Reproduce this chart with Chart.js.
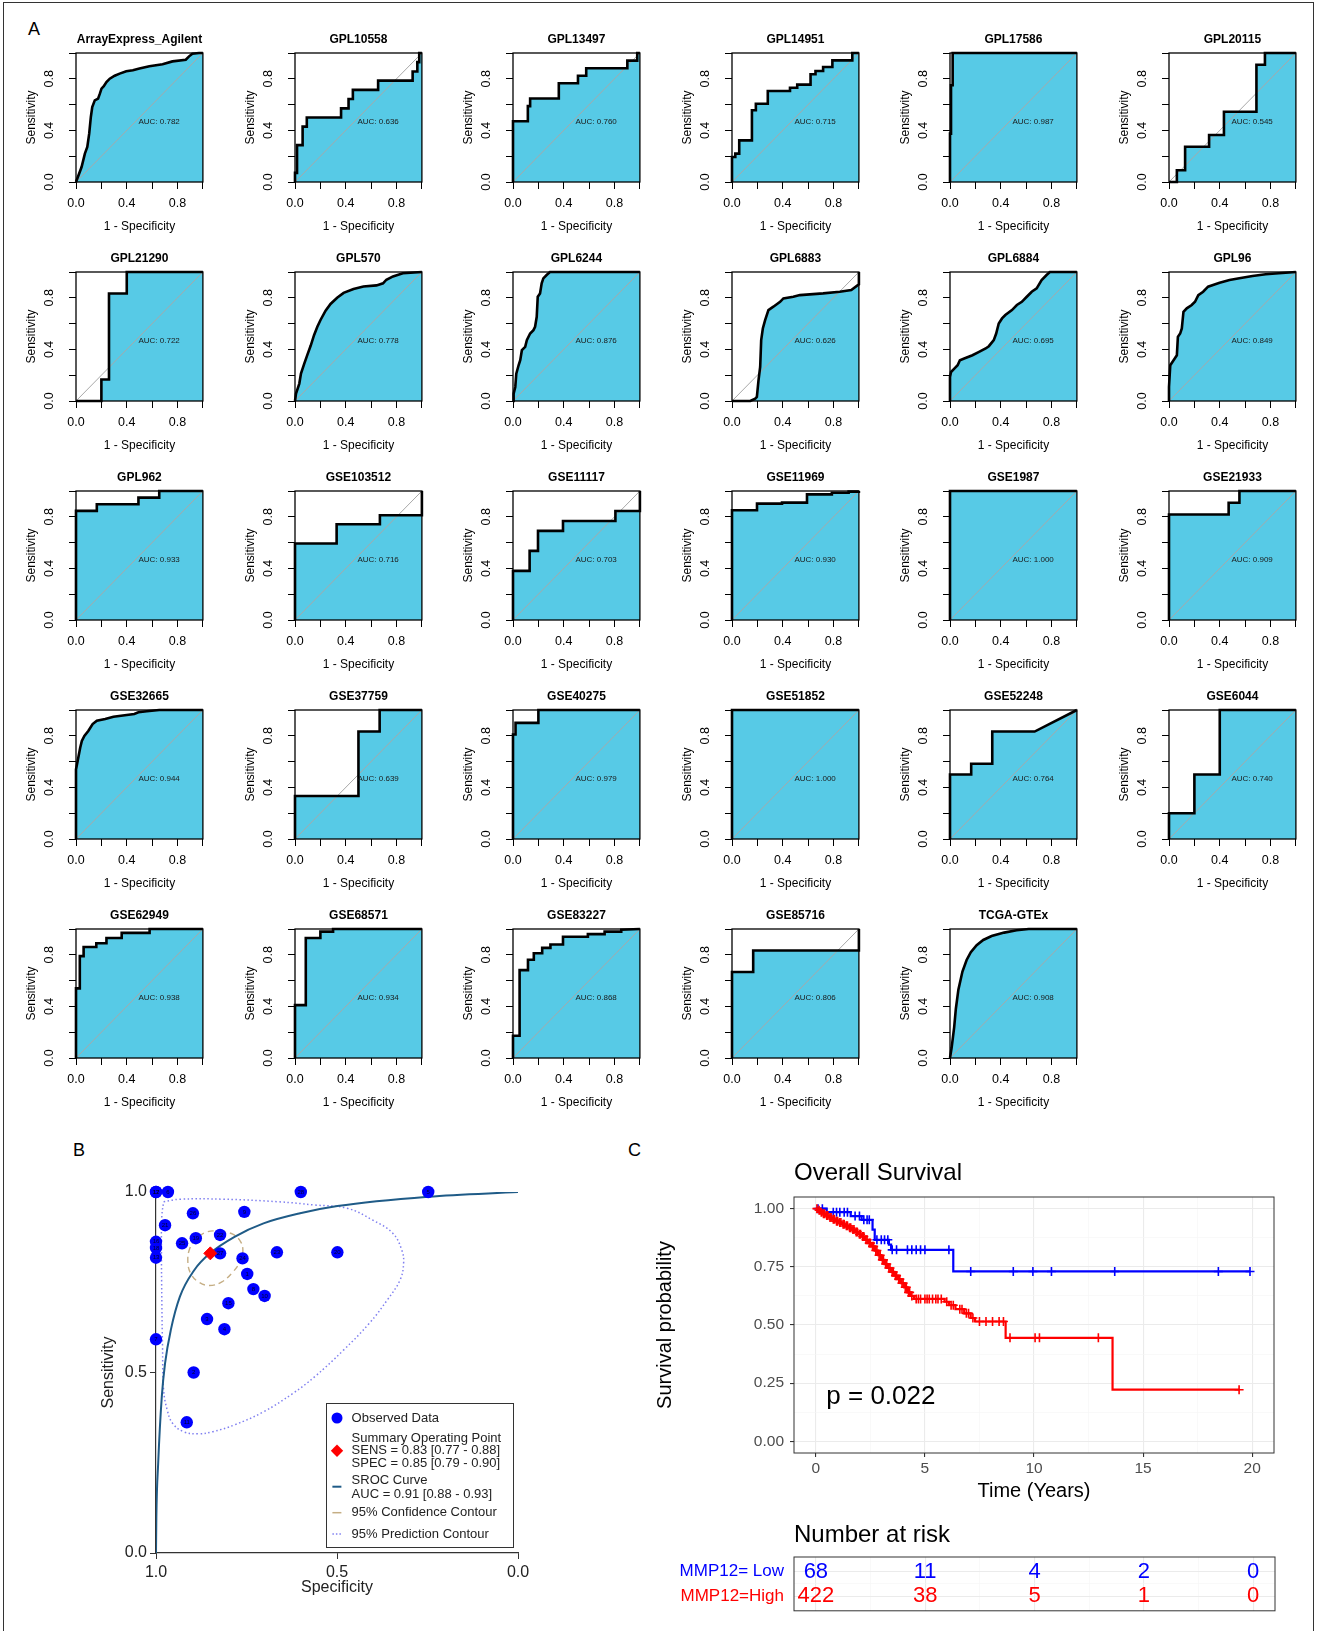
<!DOCTYPE html>
<html lang="en">
<head>
<meta charset="utf-8">
<title>MMP12 diagnostic and prognostic performance</title>
<script src="https://cdn.jsdelivr.net/npm/chart.js@4.4.1/dist/chart.umd.min.js"></script>
<style>
  html, body { margin: 0; padding: 0; background: #fff; }
  #fig { position: relative; width: 1317px; height: 1631px; overflow: hidden; background: #fff;
         font-family: 'Liberation Sans', Arial, sans-serif; }
  #fig canvas { position: absolute; }
  .frame { position: absolute; left: 3px; top: 2px; width: 1311px; height: 1700px;
           border: 1.5px solid #333; box-sizing: border-box; }
  .letter { position: absolute; font-size: 18px; line-height: 18px; color: #000; }
</style>
</head>
<body>
<div id="fig">
  <div class="frame"></div>
  <div class="letter" style="left:28px;top:20px">A</div>
  <div class="letter" style="left:73px;top:1141px">B</div>
  <div class="letter" style="left:628px;top:1141px">C</div>
</div>
<script>
const FONT = "'Liberation Sans', Arial, sans-serif";
Chart.defaults.font.family = FONT;
Chart.defaults.color = '#000';

// ---------- Panel A: ROC curves per dataset, points are [1 - specificity, sensitivity] ----------
const rocTitles = ['ArrayExpress_Agilent', 'GPL10558', 'GPL13497', 'GPL14951', 'GPL17586', 'GPL20115',
  'GPL21290', 'GPL570', 'GPL6244', 'GPL6883', 'GPL6884', 'GPL96',
  'GPL962', 'GSE103512', 'GSE11117', 'GSE11969', 'GSE1987', 'GSE21933',
  'GSE32665', 'GSE37759', 'GSE40275', 'GSE51852', 'GSE52248', 'GSE6044',
  'GSE62949', 'GSE68571', 'GSE83227', 'GSE85716', 'TCGA-GTEx'];
const rocAuc = [0.782, 0.636, 0.760, 0.715, 0.987, 0.545,
  0.722, 0.778, 0.876, 0.626, 0.695, 0.849,
  0.933, 0.716, 0.703, 0.930, 1.000, 0.909,
  0.944, 0.639, 0.979, 1.000, 0.764, 0.740,
  0.938, 0.934, 0.868, 0.806, 0.908];

const rocArrayExpressAgilent = [[0,0],[0.044,0.116],[0.070,0.220],[0.089,0.271],[0.104,0.375],[0.117,0.504],[0.128,0.581],[0.148,0.633],[0.174,0.646],[0.188,0.685],[0.201,0.724],[0.219,0.742],[0.240,0.775],[0.266,0.801],[0.305,0.824],[0.344,0.840],[0.396,0.858],[0.448,0.866],[0.500,0.879],[0.578,0.897],[0.682,0.912],[0.760,0.935],[0.865,0.948],[0.891,0.974],[0.917,0.995],[0.969,1],[1,1]];
const rocGPL10558 = [[0,0],[0,0.071],[0.016,0.071],[0.016,0.286],[0.060,0.286],[0.060,0.429],[0.093,0.429],[0.093,0.5],[0.363,0.5],[0.363,0.571],[0.422,0.571],[0.422,0.643],[0.456,0.643],[0.456,0.714],[0.655,0.714],[0.655,0.786],[0.927,0.786],[0.927,0.857],[0.964,0.857],[0.964,0.929],[0.979,0.929],[0.979,1],[1,1]];
const rocGPL13497 = [[0,0],[0,0.471],[0.117,0.471],[0.117,0.588],[0.135,0.588],[0.135,0.647],[0.361,0.647],[0.361,0.765],[0.512,0.765],[0.512,0.824],[0.577,0.824],[0.577,0.882],[0.901,0.882],[0.901,0.941],[0.979,0.941],[0.979,1],[1,1]];
const rocGPL14951 = [[0,0],[0,0.194],[0.026,0.194],[0.026,0.22],[0.057,0.22],[0.057,0.323],[0.157,0.323],[0.157,0.556],[0.188,0.556],[0.188,0.607],[0.282,0.607],[0.282,0.705],[0.457,0.705],[0.457,0.731],[0.514,0.731],[0.514,0.755],[0.619,0.755],[0.619,0.835],[0.658,0.835],[0.658,0.86],[0.718,0.86],[0.718,0.891],[0.791,0.891],[0.791,0.943],[0.948,0.943],[0.948,1],[1,1]];
const rocGPL17586 = [[0,0],[0,0.375],[0.008,0.375],[0.008,0.75],[0.021,0.75],[0.021,1],[1,1]];
const rocGPL20115 = [[0,0],[0.062,0],[0.062,0.091],[0.127,0.091],[0.127,0.273],[0.316,0.273],[0.316,0.364],[0.433,0.364],[0.433,0.545],[0.689,0.545],[0.689,0.909],[0.756,0.909],[0.756,1],[1,1]];
const rocGPL21290 = [[0,0],[0.2,0],[0.2,0.167],[0.26,0.167],[0.26,0.833],[0.4,0.833],[0.4,1],[1,1]];
const rocGPL570 = [[0,0],[0.008,0.057],[0.034,0.135],[0.047,0.212],[0.073,0.29],[0.098,0.36],[0.124,0.43],[0.150,0.51],[0.176,0.575],[0.202,0.63],[0.241,0.70],[0.280,0.752],[0.332,0.80],[0.383,0.838],[0.461,0.868],[0.539,0.888],[0.642,0.896],[0.694,0.912],[0.72,0.94],[0.772,0.966],[0.850,0.99],[1,1]];
const rocGPL6244 = [[0,0],[0.005,0.057],[0.018,0.109],[0.026,0.212],[0.044,0.277],[0.057,0.316],[0.070,0.394],[0.096,0.420],[0.109,0.472],[0.135,0.523],[0.161,0.549],[0.174,0.575],[0.187,0.653],[0.195,0.808],[0.213,0.834],[0.226,0.912],[0.239,0.951],[0.265,0.977],[0.291,1],[1,1]];
const rocGPL6883 = [[0,0],[0.144,0],[0.183,0.018],[0.196,0.031],[0.209,0.161],[0.222,0.264],[0.23,0.472],[0.243,0.562],[0.261,0.627],[0.287,0.705],[0.326,0.731],[0.379,0.769],[0.405,0.795],[0.483,0.808],[0.535,0.821],[0.718,0.834],[0.849,0.847],[0.940,0.860],[1,0.904],[1,1]];
const rocGPL6884 = [[0,0],[0,0.187],[0.008,0.225],[0.034,0.251],[0.060,0.277],[0.078,0.316],[0.112,0.329],[0.177,0.355],[0.229,0.381],[0.281,0.407],[0.306,0.425],[0.345,0.472],[0.364,0.523],[0.384,0.601],[0.410,0.640],[0.436,0.666],[0.488,0.705],[0.527,0.744],[0.566,0.769],[0.605,0.808],[0.644,0.847],[0.683,0.873],[0.722,0.938],[0.761,0.977],[0.787,1],[1,1]];
const rocGPL96 = [[0,0],[0,0.109],[0.010,0.277],[0.036,0.316],[0.062,0.355],[0.070,0.497],[0.088,0.523],[0.101,0.562],[0.114,0.692],[0.140,0.718],[0.179,0.744],[0.205,0.769],[0.231,0.821],[0.269,0.847],[0.308,0.886],[0.347,0.899],[0.399,0.917],[0.477,0.938],[0.554,0.951],[0.658,0.969],[0.762,0.982],[0.865,0.990],[1,1]];
const rocGPL962 = [[0,0],[0,0.846],[0.164,0.846],[0.164,0.897],[0.492,0.897],[0.492,0.949],[0.656,0.949],[0.656,1],[1,1]];
const rocGSE103512 = [[0,0],[0,0.593],[0.328,0.593],[0.328,0.742],[0.669,0.742],[0.669,0.812],[1,0.812],[1,1]];
const rocGSE11117 = [[0,0],[0,0.381],[0.131,0.381],[0.131,0.536],[0.197,0.536],[0.197,0.691],[0.394,0.691],[0.394,0.768],[0.807,0.768],[0.807,0.845],[1,0.845],[1,1]];
const rocGSE11969 = [[0,0],[0,0.851],[0.197,0.851],[0.197,0.902],[0.394,0.902],[0.394,0.91],[0.591,0.91],[0.591,0.974],[0.787,0.974],[0.787,0.987],[0.919,0.987],[0.919,0.995],[1,0.995],[1,1]];
const rocGSE1987 = [[0,0],[0,1],[1,1]];
const rocGSE21933 = [[0,0],[0,0.818],[0.47,0.818],[0.47,0.909],[0.555,0.909],[0.555,1],[1,1]];
const rocGSE32665 = [[0,0],[0,0.539],[0.013,0.604],[0.033,0.708],[0.046,0.760],[0.066,0.799],[0.098,0.839],[0.131,0.891],[0.164,0.917],[0.230,0.930],[0.295,0.948],[0.459,0.969],[0.492,0.982],[0.558,0.990],[0.656,1],[1,1]];
const rocGSE37759 = [[0,0],[0,0.333],[0.5,0.333],[0.5,0.833],[0.667,0.833],[0.667,1],[1,1]];
const rocGSE40275 = [[0,0],[0,0.81],[0.02,0.81],[0.02,0.9],[0.2,0.9],[0.2,1],[1,1]];
const rocGSE51852 = [[0,0],[0,1],[1,1]];
const rocGSE52248 = [[0,0],[0,0.5],[0.167,0.5],[0.167,0.583],[0.333,0.583],[0.333,0.833],[0.667,0.833],[1,1]];
const rocGSE6044 = [[0,0],[0,0.2],[0.2,0.2],[0.2,0.5],[0.4,0.5],[0.4,1],[1,1]];
const rocGSE62949 = [[0,0],[0,0.54],[0.03,0.54],[0.03,0.79],[0.06,0.79],[0.06,0.86],[0.16,0.86],[0.16,0.89],[0.24,0.89],[0.24,0.93],[0.36,0.93],[0.36,0.97],[0.58,0.97],[0.58,1],[1,1]];
const rocGSE68571 = [[0,0],[0,0.41],[0.085,0.41],[0.085,0.93],[0.2,0.93],[0.2,0.98],[0.3,0.98],[0.3,1],[1,1]];
const rocGSE83227 = [[0,0],[0,0.172],[0.052,0.172],[0.052,0.681],[0.118,0.681],[0.118,0.762],[0.164,0.762],[0.164,0.812],[0.23,0.812],[0.23,0.854],[0.295,0.854],[0.295,0.88],[0.394,0.88],[0.394,0.94],[0.59,0.94],[0.59,0.96],[0.722,0.96],[0.722,0.98],[0.853,0.98],[0.853,0.995],[1,1]];
const rocGSE85716 = [[0,0],[0,0.667],[0.167,0.667],[0.167,0.833],[1,0.833],[1,1]];
const rocTCGAGTEx = [[0,0],[0.013,0.081],[0.033,0.24],[0.046,0.38],[0.066,0.53],[0.098,0.67],[0.131,0.76],[0.164,0.82],[0.21,0.875],[0.262,0.915],[0.328,0.945],[0.427,0.972],[0.525,0.99],[0.62,1],[1,1]];

const rocCurves = [rocArrayExpressAgilent, rocGPL10558, rocGPL13497, rocGPL14951, rocGPL17586, rocGPL20115,
  rocGPL21290, rocGPL570, rocGPL6244, rocGPL6883, rocGPL6884, rocGPL96,
  rocGPL962, rocGSE103512, rocGSE11117, rocGSE11969, rocGSE1987, rocGSE21933,
  rocGSE32665, rocGSE37759, rocGSE40275, rocGSE51852, rocGSE52248, rocGSE6044,
  rocGSE62949, rocGSE68571, rocGSE83227, rocGSE85716, rocTCGAGTEx];
const rocTickValues = [0, 0.2, 0.4, 0.6, 0.8, 1];
const rocTickLabels = ['0.0', '', '0.4', '', '0.8', ''];

// ---------- Panel B: bivariate summary ROC (specificity, sensitivity) ----------
const studyIds  = ['17', '12', '6', '28', '5', '26', '9', '21', '22', '19', '25', '16', '18', '13', '27', '24', '23', '20', '1', '8', '10', '15', '3', '4', '7', '2', '11'];
const studySpec = [1.0, 1.0, 0.967, 0.600, 0.248, 0.898, 0.756, 0.975, 0.823, 0.890, 0.928, 1.0, 1.0, 1.0, 0.823, 0.761, 0.666, 0.499, 0.748, 0.731, 0.700, 0.800, 0.859, 0.811, 1.0, 0.896, 0.915];
const studySens = [1.0, 1.0, 1.0, 1.0, 1.0, 0.941, 0.945, 0.908, 0.881, 0.872, 0.858, 0.862, 0.845, 0.818, 0.830, 0.816, 0.833, 0.833, 0.773, 0.731, 0.712, 0.692, 0.648, 0.620, 0.592, 0.500, 0.362];
const summarySpec = [0.85];
const summarySens = [0.83];
const srocSpec = [1.0, 0.999, 0.994, 0.984, 0.975, 0.959, 0.934, 0.894, 0.851, 0.783, 0.703, 0.602, 0.499, 0.248, 0.0];
const srocSens = [0.0, 0.10, 0.248, 0.433, 0.525, 0.618, 0.710, 0.784, 0.830, 0.876, 0.913, 0.941, 0.961, 0.987, 1.0];
const confSpec = [0.823, 0.788, 0.766, 0.760, 0.768, 0.788, 0.818, 0.853, 0.883, 0.904, 0.912, 0.907, 0.888, 0.858, 0.823];
const confSens = [0.892, 0.883, 0.862, 0.834, 0.806, 0.778, 0.751, 0.741, 0.751, 0.774, 0.806, 0.843, 0.871, 0.890, 0.892];
const predSpec = [0.979, 0.934, 0.813, 0.662, 0.562, 0.472, 0.401, 0.346, 0.321, 0.316, 0.326, 0.361, 0.411, 0.482, 0.562, 0.622, 0.703, 0.783, 0.843, 0.883, 0.924, 0.954, 0.969, 0.979, 0.982, 0.984, 0.985, 0.984, 0.979];
const predSens = [0.973, 0.980, 0.980, 0.973, 0.964, 0.955, 0.922, 0.886, 0.839, 0.802, 0.756, 0.701, 0.636, 0.562, 0.488, 0.442, 0.391, 0.355, 0.336, 0.330, 0.336, 0.359, 0.396, 0.452, 0.572, 0.710, 0.849, 0.932, 0.973];
const srocTickValues = [0, 0.5, 1];
const srocLegendText = ['Observed Data', 'Summary Operating Point', 'SENS = 0.83 [0.77 - 0.88]', 'SPEC = 0.85 [0.79 - 0.90]',
  'SROC Curve', 'AUC = 0.91 [0.88 - 0.93]', '95% Confidence Contour', '95% Prediction Contour'];

// ---------- Panel C: Kaplan-Meier overall survival by MMP12 expression ----------
const kmLowTime = [0, 0.5, 1.6, 2.1, 2.6, 2.7, 3.35, 3.45, 6.3, 19.9];
const kmLowSurv = [1, 0.985, 0.968, 0.952, 0.91, 0.866, 0.845, 0.823, 0.73, 0.73];
const kmLowCensor = [0.1, 0.3, 0.8, 0.95, 1.1, 1.3, 1.45, 1.8, 2.0, 2.2, 2.35, 2.45, 2.8, 3.0, 3.15, 3.3, 3.5, 3.7, 4.2, 4.4, 4.6, 4.8, 5.0, 6.1, 7.1, 9.05, 9.95, 10.8, 13.7, 18.45, 19.9];
const kmHighTime = [0, 0.10, 0.20, 0.30, 0.45, 0.60, 0.75, 0.90, 1.05, 1.20, 1.35, 1.50, 1.65, 1.80, 1.95, 2.10, 2.25, 2.40, 2.55, 2.70, 2.85, 3.00, 3.15, 3.30, 3.45, 3.60, 3.75, 3.90, 4.05, 4.20, 4.35, 4.50, 5.90, 6.10, 6.40, 6.80, 7.10, 7.30, 8.70, 13.60, 19.40];
const kmHighSurv = [1, 0.993, 0.985, 0.978, 0.970, 0.962, 0.954, 0.946, 0.940, 0.933, 0.926, 0.918, 0.910, 0.900, 0.890, 0.880, 0.866, 0.852, 0.838, 0.820, 0.800, 0.780, 0.762, 0.745, 0.728, 0.712, 0.697, 0.680, 0.662, 0.640, 0.625, 0.612, 0.600, 0.585, 0.568, 0.550, 0.530, 0.515, 0.445, 0.222, 0.222];
const kmHighCensor = [0.05, 0.15, 0.25, 0.35, 0.4, 0.5, 0.55, 0.65, 0.7, 0.8, 0.85, 0.95, 1.0, 1.1, 1.15, 1.25, 1.3, 1.4, 1.45, 1.55, 1.6, 1.7, 1.75, 1.85, 1.9, 2.0, 2.05, 2.15, 2.2, 2.3, 2.35, 2.45, 2.5, 2.6, 2.65, 2.75, 2.8, 2.9, 2.95, 3.05, 3.1, 3.2, 3.25, 3.35, 3.4, 3.5, 3.55, 3.65, 3.7, 3.8, 3.85, 3.95, 4.0, 4.1, 4.15, 4.25, 4.3, 4.4, 4.6, 4.7, 4.8, 5.0, 5.1, 5.2, 5.35, 5.5, 5.6, 5.75, 6.0, 6.2, 6.3, 6.6, 6.7, 6.9, 7.0, 7.2, 7.5, 7.8, 8.1, 8.4, 8.6, 8.9, 10.05, 10.25, 12.95, 19.4];
const kmGridX = [0, 2.5, 5, 7.5, 10, 12.5, 15, 17.5, 20];
const kmGridY = [0, 0.125, 0.25, 0.375, 0.5, 0.625, 0.75, 0.875, 1];
const pValueLabel = 'p = 0.022';
const riskTimes = [0, 5, 10, 15, 20];
const riskLow = [68, 11, 4, 2, 0];
const riskHigh = [422, 38, 5, 1, 0];
const riskLabels = ['MMP12= Low', 'MMP12=High'];

// ---------- shared helpers ----------
const ROC_FILL = '#57CAE6';
const LOW_COLOR = '#0000FF';
const HIGH_COLOR = '#FF0000';
const GRID_LEFT = [76, 295, 513, 732, 950, 1169];
const GRID_TOP = [53, 272, 491, 710, 929];
const fig = document.getElementById('fig');

function makeCanvas(left, top, w, h) {
  const c = document.createElement('canvas');
  c.width = w; c.height = h;
  c.style.left = left + 'px'; c.style.top = top + 'px';
  c.style.width = w + 'px'; c.style.height = h + 'px';
  fig.appendChild(c);
  return c;
}
const toPts = (arr) => arr.map(p => ({ x: p[0], y: p[1] }));
const zipPts = (xs, ys) => xs.map((x, i) => ({ x, y: ys[i] }));
const fixTicks = (values) => (scale) => { scale.ticks = values.map(v => ({ value: v })); };

function framePlugin(color, width) {
  return {
    id: 'frame',
    afterDatasetsDraw(chart) {
      const { ctx, chartArea: a } = chart;
      ctx.save();
      ctx.strokeStyle = color; ctx.lineWidth = width;
      ctx.strokeRect(a.left, a.top, a.right - a.left, a.bottom - a.top);
      ctx.restore();
    }
  };
}

function aucPlugin(text) {
  return {
    id: 'aucText',
    afterDatasetsDraw(chart) {
      const { ctx, scales: { x, y } } = chart;
      ctx.save();
      ctx.font = `8px ${FONT}`; ctx.fillStyle = '#1a1a1a';
      ctx.textAlign = 'left'; ctx.textBaseline = 'top';
      ctx.fillText(text, x.getPixelForValue(0.5) - 1, y.getPixelForValue(0.5) + 0.5);
      ctx.restore();
    }
  };
}

function rocScale(isX) {
  return {
    type: 'linear', position: isX ? 'bottom' : 'left', min: 0, max: 1,
    afterBuildTicks: fixTicks(rocTickValues),
    afterFit: (s) => { if (isX) s.height = 56; else s.width = 56; },
    border: { display: false },
    grid: { drawOnChartArea: false, drawTicks: true, tickLength: 7, tickColor: '#000', tickWidth: 1 },
    ticks: {
      autoSkip: false, color: '#000', font: { size: 12.5 },
      padding: isX ? 7.1 : 11,
      minRotation: isX ? 0 : 90, maxRotation: isX ? 0 : 90,
      crossAlign: isX ? 'near' : 'center',
      callback: (v, i) => rocTickLabels[i]
    },
    title: {
      display: true, text: isX ? '1 - Specificity' : 'Sensitivity', color: '#000', font: { size: 12 },
      padding: isX ? { top: 0, bottom: 3.8 } : { top: 4.5, bottom: 0 }
    }
  };
}

// ---------- Panel A: 29 ROC plots ----------
rocCurves.forEach((curve, i) => {
  const r = Math.floor(i / 6), c = i % 6;
  const canvas = makeCanvas(GRID_LEFT[c] - 56, GRID_TOP[r] - 25, 190, 210);
  new Chart(canvas, {
    type: 'scatter',
    data: {
      datasets: [
        { data: toPts(curve), showLine: true, fill: 'origin', backgroundColor: ROC_FILL,
          borderColor: 'rgba(0,0,0,0)', borderWidth: 0, pointRadius: 0, order: 3 },
        { data: [{ x: 0, y: 0 }, { x: 1, y: 1 }], showLine: true, borderColor: '#a8a8a8',
          borderWidth: 1, pointRadius: 0, order: 2 },
        { data: toPts(curve), showLine: true, borderColor: '#000', borderWidth: 2.6,
          borderJoinStyle: 'miter', borderCapStyle: 'butt', pointRadius: 0, order: 1, clip: 4 }
      ]
    },
    options: {
      responsive: false, animation: false, events: [],
      layout: { padding: { left: 0, right: 6, top: 0, bottom: 0 } },
      plugins: {
        legend: { display: false }, tooltip: { enabled: false },
        title: { display: true, text: rocTitles[i], fullSize: false, align: 'center', color: '#000',
                 font: { size: 12, weight: 'bold' }, padding: { top: 4.1, bottom: 6.5 } }
      },
      scales: { x: rocScale(true), y: rocScale(false) }
    },
    plugins: [framePlugin('#000', 1.3), aucPlugin('AUC: ' + rocAuc[i].toFixed(3))]
  });
});

// ---------- Panel B: SROC ----------
const studyLabelPlugin = {
  id: 'studyLabels',
  afterDatasetsDraw(chart) {
    const { ctx, scales: { x, y } } = chart;
    ctx.save();
    ctx.font = `6px ${FONT}`; ctx.fillStyle = '#000033';
    ctx.textAlign = 'center'; ctx.textBaseline = 'middle';
    studyIds.forEach((id, i) => ctx.fillText(id, x.getPixelForValue(studySpec[i]), y.getPixelForValue(studySens[i])));
    ctx.restore();
  }
};
const srocLegendPlugin = {
  id: 'srocLegend',
  afterDraw(chart) {
    const ctx = chart.ctx;
    ctx.save();
    ctx.fillStyle = '#fff';
    ctx.fillRect(266.5, 273.5, 187, 144);
    ctx.strokeStyle = '#333'; ctx.lineWidth = 1;
    ctx.strokeRect(266.5, 273.5, 187, 144);
    // symbols
    ctx.fillStyle = LOW_COLOR;
    ctx.beginPath(); ctx.arc(277, 288, 5.5, 0, Math.PI * 2); ctx.fill();
    ctx.fillStyle = HIGH_COLOR;
    ctx.beginPath(); ctx.moveTo(277, 314.5); ctx.lineTo(283.2, 320.7); ctx.lineTo(277, 326.9); ctx.lineTo(270.8, 320.7); ctx.closePath(); ctx.fill();
    ctx.lineWidth = 2; ctx.strokeStyle = '#1F5B87';
    ctx.beginPath(); ctx.moveTo(272.4, 356.7); ctx.lineTo(281.4, 356.7); ctx.stroke();
    ctx.lineWidth = 1.5; ctx.strokeStyle = '#C5AE84';
    ctx.beginPath(); ctx.moveTo(272.4, 382.7); ctx.lineTo(281.4, 382.7); ctx.stroke();
    ctx.strokeStyle = '#8080F0'; ctx.setLineDash([1.5, 2]);
    ctx.beginPath(); ctx.moveTo(272.4, 404); ctx.lineTo(282, 404); ctx.stroke();
    ctx.setLineDash([]);
    // text
    ctx.font = `13px ${FONT}`; ctx.fillStyle = '#222';
    ctx.textAlign = 'left'; ctx.textBaseline = 'middle';
    const ys = [288, 308, 320.7, 333.3, 350.7, 364, 382.7, 404];
    srocLegendText.forEach((t, i) => ctx.fillText(t, 291.6, ys[i]));
    ctx.restore();
  }
};

function srocScale(isX) {
  return {
    type: 'linear', position: isX ? 'bottom' : 'left', min: 0, max: 1, reverse: isX,
    afterBuildTicks: fixTicks(srocTickValues),
    afterFit: (s) => { if (isX) s.height = 57; else s.width = 96; },
    border: { display: true, color: '#333', width: 1.2 },
    grid: { drawOnChartArea: false, drawTicks: true, tickLength: 6, tickColor: '#333', tickWidth: 1 },
    ticks: { autoSkip: false, maxRotation: 0, color: '#222', font: { size: 16 },
             padding: isX ? 4.1 : 3, callback: (v) => Number(v).toFixed(1) },
    title: { display: true, text: isX ? 'Specificity' : 'Sensitivity', color: '#222', font: { size: 16 },
             padding: isX ? { top: 0, bottom: 12.4 } : { top: 39.4, bottom: 0 } }
  };
}

new Chart(makeCanvas(60, 1130, 570, 480), {
  type: 'scatter',
  data: {
    datasets: [
      { label: 'Summary Operating Point', data: zipPts(summarySpec, summarySens), pointStyle: 'rectRot',
        pointRadius: 6.5, backgroundColor: HIGH_COLOR, borderColor: HIGH_COLOR, order: 0, clip: false },
      { label: 'Observed Data', data: zipPts(studySpec, studySens), pointStyle: 'circle', pointRadius: 6.2,
        backgroundColor: LOW_COLOR, borderColor: LOW_COLOR, borderWidth: 0, order: 1, clip: false },
      { label: '95% Confidence Contour', data: zipPts(confSpec, confSens), showLine: true, tension: 0.4,
        borderColor: '#C5AE84', borderDash: [6, 4], borderWidth: 1.4, pointRadius: 0, order: 3 },
      { label: 'SROC Curve', data: zipPts(srocSpec, srocSens), showLine: true, cubicInterpolationMode: 'monotone',
        borderColor: '#1F5B87', borderWidth: 2, pointRadius: 0, order: 2 },
      { label: '95% Prediction Contour', data: zipPts(predSpec, predSens), showLine: true, tension: 0.4,
        borderColor: '#8080F0', borderDash: [1.5, 2.5], borderWidth: 1.5, pointRadius: 0, order: 4 }
    ]
  },
  options: {
    responsive: false, animation: false, events: [],
    layout: { padding: { left: 0, right: 112, top: 62, bottom: 0 } },
    plugins: { legend: { display: false }, tooltip: { enabled: false } },
    scales: { x: srocScale(true), y: srocScale(false) }
  },
  plugins: [studyLabelPlugin, srocLegendPlugin]
});

// ---------- Panel C: survival curves ----------
function survAt(times, survs, t) {
  let s = survs[0];
  for (let i = 0; i < times.length; i++) { if (times[i] <= t) s = survs[i]; else break; }
  return s;
}
const isMajorX = (v) => Math.abs(v / 5 - Math.round(v / 5)) < 1e-9;
const isMajorY = (v) => Math.abs(v * 4 - Math.round(v * 4)) < 1e-9;

const pValuePlugin = {
  id: 'pValue',
  afterDatasetsDraw(chart) {
    const { ctx, scales: { x, y } } = chart;
    ctx.save();
    ctx.font = `26px ${FONT}`; ctx.fillStyle = '#000';
    ctx.textAlign = 'left'; ctx.textBaseline = 'middle';
    ctx.fillText(pValueLabel, x.getPixelForValue(0.48), y.getPixelForValue(0.19));
    ctx.restore();
  }
};

const censorSet = (times, survs, censor, color, order) => ({
  data: censor.map(t => ({ x: t, y: survAt(times, survs, t) })),
  showLine: false, pointStyle: 'cross', pointRadius: 4.5, borderColor: color,
  pointBorderColor: color, borderWidth: 1.6, pointBorderWidth: 1.6, order, clip: false
});

new Chart(makeCanvas(625, 1150, 692, 360), {
  type: 'scatter',
  data: {
    datasets: [
      { label: 'MMP12=High', data: zipPts(kmHighTime, kmHighSurv), showLine: true, stepped: true,
        borderColor: HIGH_COLOR, borderWidth: 2.2, pointRadius: 0, order: 1 },
      censorSet(kmHighTime, kmHighSurv, kmHighCensor, HIGH_COLOR, 0),
      { label: 'MMP12= Low', data: zipPts(kmLowTime, kmLowSurv), showLine: true, stepped: true,
        borderColor: LOW_COLOR, borderWidth: 2.2, pointRadius: 0, order: 3 },
      censorSet(kmLowTime, kmLowSurv, kmLowCensor, LOW_COLOR, 2)
    ]
  },
  options: {
    responsive: false, animation: false, events: [],
    layout: { padding: { left: 0, right: 43, top: 0, bottom: 0 } },
    plugins: {
      legend: { display: false }, tooltip: { enabled: false },
      title: { display: true, text: 'Overall Survival', fullSize: false, align: 'start', color: '#000',
               font: { size: 24, weight: 'normal' }, padding: { top: 8.6, bottom: 9.6 } }
    },
    scales: {
      x: {
        type: 'linear', min: -1, max: 21, afterBuildTicks: fixTicks(kmGridX),
        afterFit: (s) => { s.height = 57; },
        border: { display: false },
        grid: { color: (c) => isMajorX(c.tick.value) ? '#EBEBEB' : '#F5F5F5',
                lineWidth: (c) => isMajorX(c.tick.value) ? 1.1 : 0.6,
                tickColor: (c) => isMajorX(c.tick.value) ? '#333' : 'rgba(0,0,0,0)', tickLength: 4 },
        ticks: { autoSkip: false, maxRotation: 0, color: '#4D4D4D', font: { size: 15.5 }, padding: 2.7,
                 callback: (v) => isMajorX(v) ? String(v) : '' },
        title: { display: true, text: 'Time (Years)', color: '#000', font: { size: 20 }, padding: { top: 0, bottom: 7 } }
      },
      y: {
        type: 'linear', min: -0.05, max: 1.05, afterBuildTicks: fixTicks(kmGridY),
        afterFit: (s) => { s.width = 169; },
        border: { display: false },
        grid: { color: (c) => isMajorY(c.tick.value) ? '#EBEBEB' : '#F5F5F5',
                lineWidth: (c) => isMajorY(c.tick.value) ? 1.1 : 0.6,
                tickColor: (c) => isMajorY(c.tick.value) ? '#333' : 'rgba(0,0,0,0)', tickLength: 4 },
        ticks: { autoSkip: false, color: '#4D4D4D', font: { size: 15.5 }, padding: 6,
                 callback: (v) => isMajorY(v) ? Number(v).toFixed(2) : '' },
        title: { display: true, text: 'Survival probability', color: '#000', font: { size: 20 }, padding: { top: 28, bottom: 0 } }
      }
    }
  },
  plugins: [framePlugin('#333', 1), pValuePlugin]
});

// ---------- Panel C: number at risk table ----------
const riskRows = [riskLow, riskHigh];
const riskRowValue = [2, 1];
const riskColors = [LOW_COLOR, HIGH_COLOR];
const riskPlugin = {
  id: 'riskNumbers',
  afterDatasetsDraw(chart) {
    const { ctx, scales: { x, y } } = chart;
    ctx.save();
    ctx.font = `22px ${FONT}`; ctx.textAlign = 'center'; ctx.textBaseline = 'middle';
    riskRows.forEach((row, r) => {
      ctx.fillStyle = riskColors[r];
      row.forEach((n, j) => ctx.fillText(String(n), x.getPixelForValue(riskTimes[j]), y.getPixelForValue(riskRowValue[r])));
    });
    ctx.restore();
  }
};

new Chart(makeCanvas(625, 1510, 692, 121), {
  type: 'scatter',
  data: { datasets: [] },
  options: {
    responsive: false, animation: false, events: [],
    layout: { padding: { left: 0, right: 42, top: 0, bottom: 14 } },
    plugins: {
      legend: { display: false }, tooltip: { enabled: false },
      title: { display: true, text: 'Number at risk', fullSize: false, align: 'start', color: '#000',
               font: { size: 24, weight: 'normal' }, padding: { top: 10.6, bottom: 7.6 } }
    },
    scales: {
      x: {
        type: 'linear', min: -1, max: 21, afterBuildTicks: fixTicks(kmGridX),
        afterFit: (s) => { s.height = 0; },
        border: { display: false },
        grid: { drawTicks: false, color: (c) => isMajorX(c.tick.value) ? '#EBEBEB' : '#F5F5F5',
                lineWidth: (c) => isMajorX(c.tick.value) ? 1.1 : 0.6 },
        ticks: { display: false }
      },
      y: {
        type: 'linear', min: 0.4, max: 2.6, afterBuildTicks: fixTicks([1, 1.5, 2]),
        afterFit: (s) => { s.width = 169; },
        border: { display: false },
        grid: { drawTicks: false, color: (c) => c.tick.value === 1.5 ? '#F5F5F5' : '#EBEBEB',
                lineWidth: (c) => c.tick.value === 1.5 ? 0.6 : 1.1 },
        ticks: { autoSkip: false, font: { size: 17 }, padding: 10,
                 color: (c) => c.tick && c.tick.value === 2 ? LOW_COLOR : HIGH_COLOR,
                 callback: (v) => v === 2 ? riskLabels[0] : (v === 1 ? riskLabels[1] : '') }
      }
    }
  },
  plugins: [framePlugin('#333', 1), riskPlugin]
});
</script>
</body>
</html>
